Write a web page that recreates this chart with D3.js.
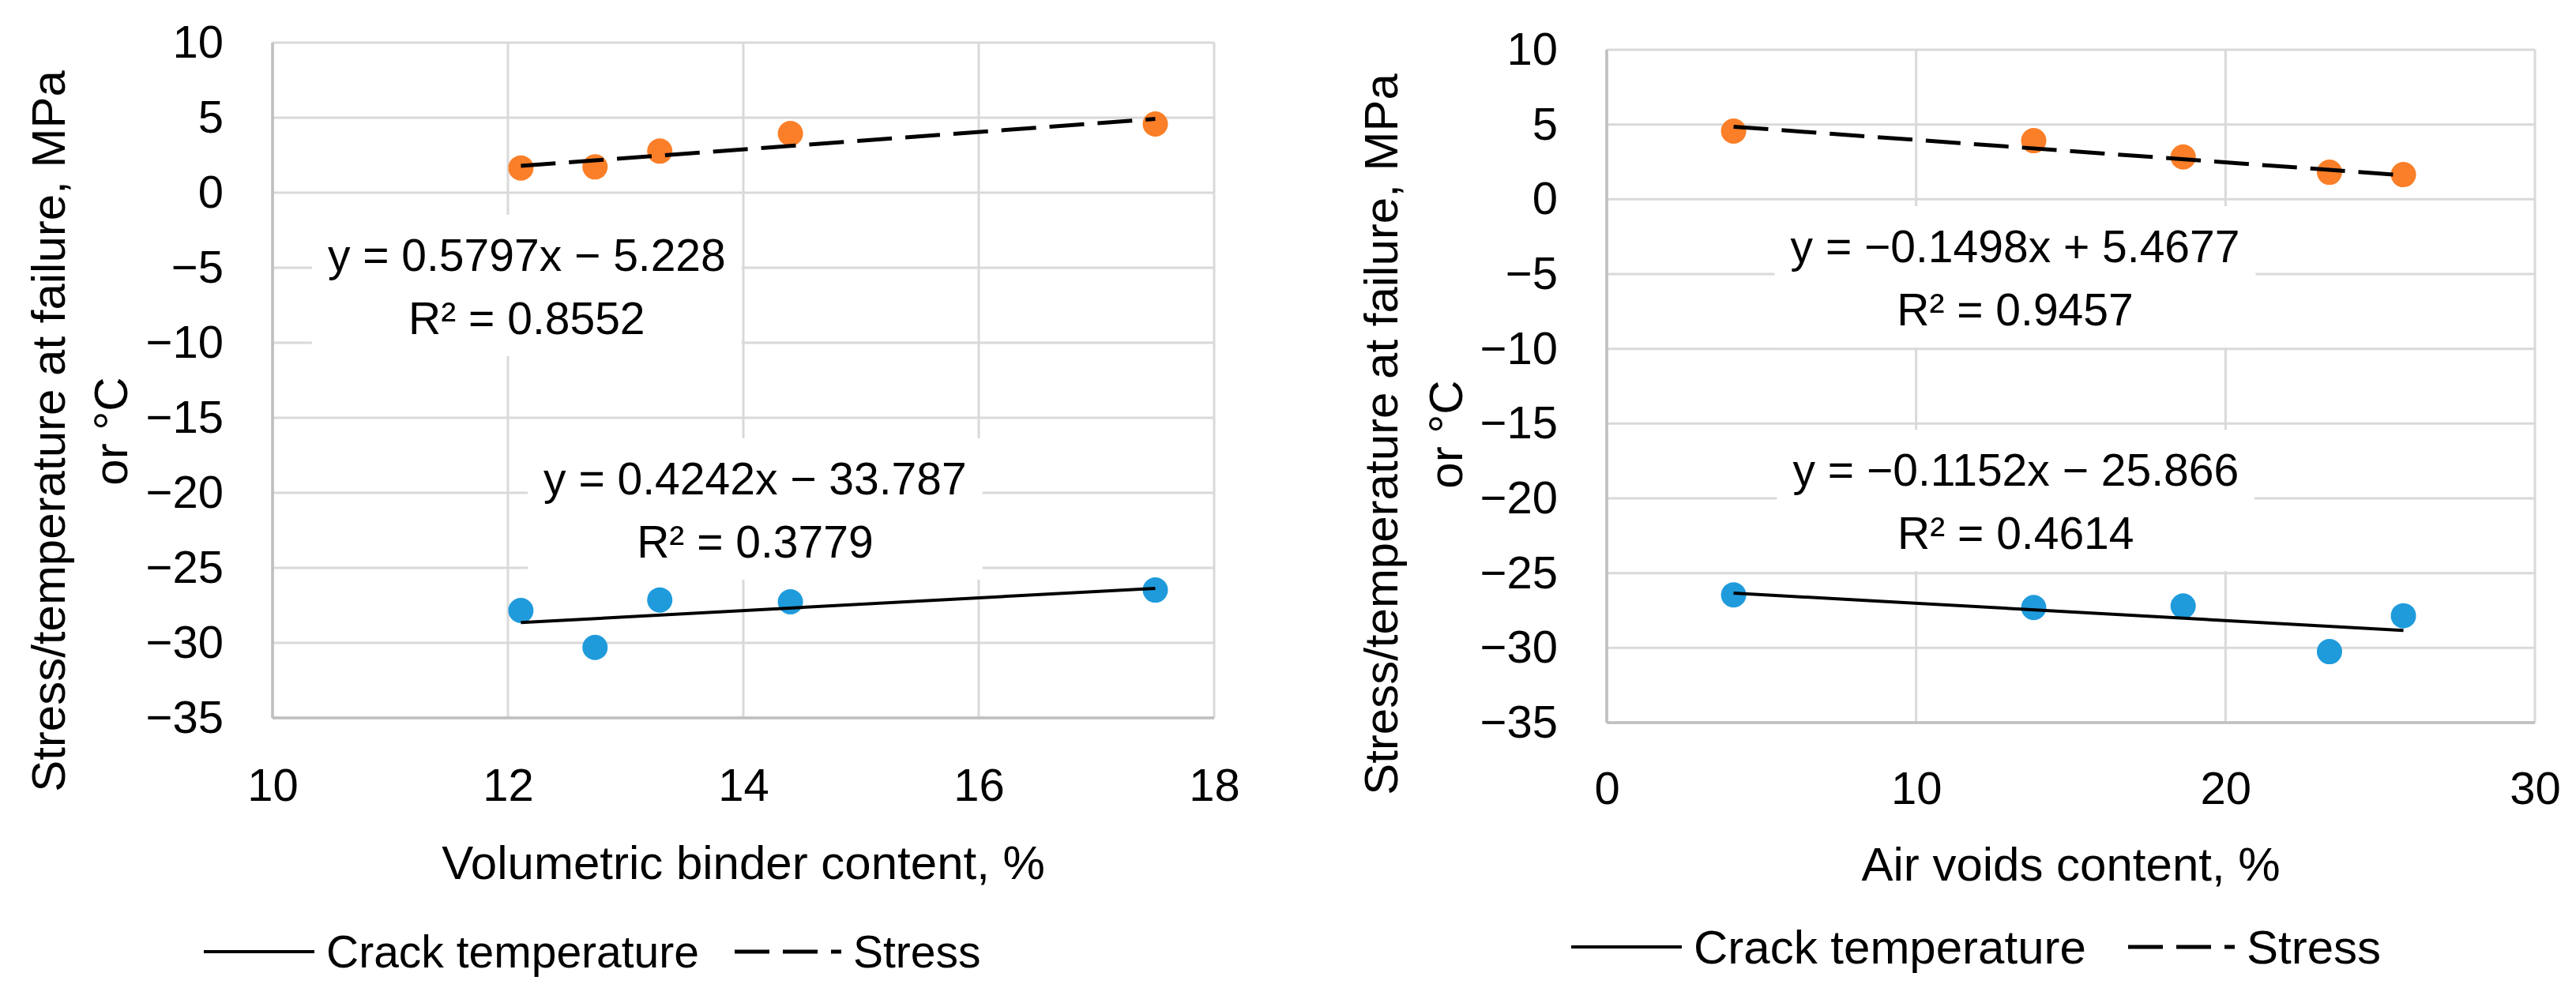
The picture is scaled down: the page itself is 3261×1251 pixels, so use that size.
<!DOCTYPE html>
<html>
<head>
<meta charset="utf-8">
<script src="https://cdn.jsdelivr.net/npm/d3@7"></script>
<style>
  body { margin: 0; background: #fff; }
  text { font-family: "Liberation Sans", Arial, sans-serif; fill: #000; }
</style>
</head>
<body>
<svg width="3261" height="1251"></svg>
<script>
// Volumetric binder content panel
const binderX = [12.11, 12.74, 13.29, 14.40, 17.50];
const binderStress = [1.65, 1.72, 2.77, 3.95, 4.58];
const binderCrack = [-27.84, -30.30, -27.14, -27.26, -26.48];

// Air voids content panel
const airX = [4.10, 13.80, 18.63, 23.36, 25.75];
const airStress = [4.56, 3.92, 2.83, 1.81, 1.65];
const airCrack = [-26.46, -27.30, -27.20, -30.25, -27.85];

// Linear trendlines: [slope, intercept, R²]
const binderStressFit = [0.5797, -5.228, 0.8552];
const binderCrackFit = [0.4242, -33.787, 0.3779];
const airStressFit = [-0.1498, 5.4677, 0.9457];
const airCrackFit = [-0.1152, -25.866, 0.4614];

// Tick values
const binderTicks = [10, 12, 14, 16, 18];
const airTicks = [0, 10, 20, 30];
const yTicks = [-35, -30, -25, -20, -15, -10, -5, 0, 5, 10];

const seriesNames = ["Crack temperature", "Stress"];
const yTitle = ["Stress/temperature at failure, MPa", "or °C"];

const orange = "#fb7f28";
const blue = "#1f9bdc";
const dash = "44,17";

const svg = d3.select("svg");

// Equation text from the fit coefficients
function equation(fit) {
  const s = fit[0] < 0 ? "−" + Math.abs(fit[0]) : "" + fit[0];
  const b = fit[1] < 0 ? " − " + Math.abs(fit[1]) : " + " + fit[1];
  return "y = " + s + "x" + b;
}

function drawPanel(p) {
  const x = d3.scaleLinear().domain(d3.extent(p.xTicks)).range([p.left, p.right]);
  const y = d3.scaleLinear().domain([-35, 10]).range([p.bottom, p.top]);
  const g = svg.append("g");

  // grid
  g.selectAll(".hgrid").data(yTicks).enter().append("line")
    .attr("x1", p.left).attr("x2", p.right)
    .attr("y1", d => y(d)).attr("y2", d => y(d))
    .attr("stroke", "#d9d9d9").attr("stroke-width", 3);
  g.selectAll(".vgrid").data(p.xTicks).enter().append("line")
    .attr("x1", d => x(d)).attr("x2", d => x(d))
    .attr("y1", p.top).attr("y2", p.bottom)
    .attr("stroke", "#d9d9d9").attr("stroke-width", 3);

  // axis lines
  g.append("line").attr("x1", p.left).attr("x2", p.left).attr("y1", p.top).attr("y2", p.bottom)
    .attr("stroke", "#bfbfbf").attr("stroke-width", 3.5);
  g.append("line").attr("x1", p.left).attr("x2", p.right).attr("y1", p.bottom).attr("y2", p.bottom)
    .attr("stroke", "#bfbfbf").attr("stroke-width", 3.5);

  // tick labels
  const xAxis = g.append("g").attr("transform", `translate(0,${p.bottom})`)
    .call(d3.axisBottom(x).tickValues(p.xTicks).tickSize(0).tickPadding(p.xPad));
  const yAxis = g.append("g").attr("transform", `translate(${p.left},0)`)
    .call(d3.axisLeft(y).tickValues(yTicks).tickSize(0).tickPadding(62));
  [xAxis, yAxis].forEach(a => {
    a.select(".domain").remove();
    a.selectAll("text").attr("font-size", 58).attr("font-family", "Liberation Sans, Arial, sans-serif").attr("fill", "#000");
  });

  // equation labels (white boxes over the grid)
  const labels = [
    { fit: p.stressFit, pos: p.stressLabel },
    { fit: p.crackFit, pos: p.crackLabel }
  ];
  labels.forEach(l => {
    const cx = x(l.pos[0]), by = y(l.pos[1]);
    const lg = g.append("g");
    const rect = lg.append("rect").attr("fill", "#fff");
    const t1 = lg.append("text").attr("x", cx).attr("y", by).attr("text-anchor", "middle")
      .attr("font-size", 57).text(equation(l.fit));
    lg.append("text").attr("x", cx).attr("y", by + 80).attr("text-anchor", "middle")
      .attr("font-size", 57).text("R² = " + l.fit[2]);
    const w = t1.node().getComputedTextLength() + 40;
    rect.attr("x", cx - w / 2).attr("y", by - 71).attr("width", w).attr("height", 179);
  });

  // trendlines
  const [x0, x1] = d3.extent(p.xs);
  const trend = (fit, dashed) => g.append("line")
    .attr("x1", x(x0)).attr("y1", y(fit[0] * x0 + fit[1]))
    .attr("x2", x(x1)).attr("y2", y(fit[0] * x1 + fit[1]))
    .attr("stroke", "#000").attr("stroke-width", dashed ? 5 : 4)
    .attr("stroke-dasharray", dashed ? dash : null);

  // points
  g.selectAll(".stress").data(p.xs).enter().append("circle")
    .attr("cx", d => x(d)).attr("cy", (d, i) => y(p.stress[i]))
    .attr("r", 16).attr("fill", orange);
  g.selectAll(".crack").data(p.xs).enter().append("circle")
    .attr("cx", d => x(d)).attr("cy", (d, i) => y(p.crack[i]))
    .attr("r", 16).attr("fill", blue);
  trend(p.stressFit, true);
  trend(p.crackFit, false);

  // axis titles
  g.append("text").attr("x", (p.left + p.right) / 2).attr("y", p.bottom + p.xTitleDy)
    .attr("text-anchor", "middle").attr("font-size", 60).text(p.xTitle);
  yTitle.forEach((t, i) => {
    g.append("text")
      .attr("transform", `translate(${p.titleX[i]},${p.titleY}) rotate(-90)`)
      .attr("text-anchor", "middle").attr("dy", "0.35em")
      .attr("font-size", 60).text(t);
  });

  // legend
  const lgd = g.append("g").attr("transform", `translate(${p.legend[0]},${p.legend[1]})`);
  lgd.append("line").attr("x1", 0).attr("x2", 140).attr("stroke", "#000").attr("stroke-width", 4);
  lgd.append("text").attr("x", 155).attr("dy", "0.35em").attr("font-size", p.legendSize).text(seriesNames[0]);
  lgd.append("line").attr("x1", p.legendDash).attr("x2", p.legendDash + 135)
    .attr("stroke", "#000").attr("stroke-width", 5).attr("stroke-dasharray", dash);
  lgd.append("text").attr("x", p.legendDash + 150).attr("dy", "0.35em").attr("font-size", p.legendSize).text(seriesNames[1]);
}

drawPanel({
  left: 345, right: 1537, top: 54, bottom: 909,
  xTicks: binderTicks, xs: binderX, stress: binderStress, crack: binderCrack,
  stressFit: binderStressFit, crackFit: binderCrackFit,
  stressLabel: [12.16, -5.21], crackLabel: [14.10, -20.1],
  xPad: 64, xTitle: "Volumetric binder content, %", xTitleDy: 204,
  titleX: [61, 140], titleY: 546,
  legend: [258, 1205], legendDash: 672, legendSize: 57
});

drawPanel({
  left: 2034, right: 3209, top: 63, bottom: 915,
  xTicks: airTicks, xs: airX, stress: airStress, crack: airCrack,
  stressFit: airStressFit, crackFit: airCrackFit,
  stressLabel: [13.2, -4.21], crackLabel: [13.22, -19.16],
  xPad: 62, xTitle: "Air voids content, %", xTitleDy: 200,
  titleX: [1748, 1830], titleY: 550,
  legend: [1989, 1199], legendDash: 705, legendSize: 60
});
</script>
</body>
</html>
